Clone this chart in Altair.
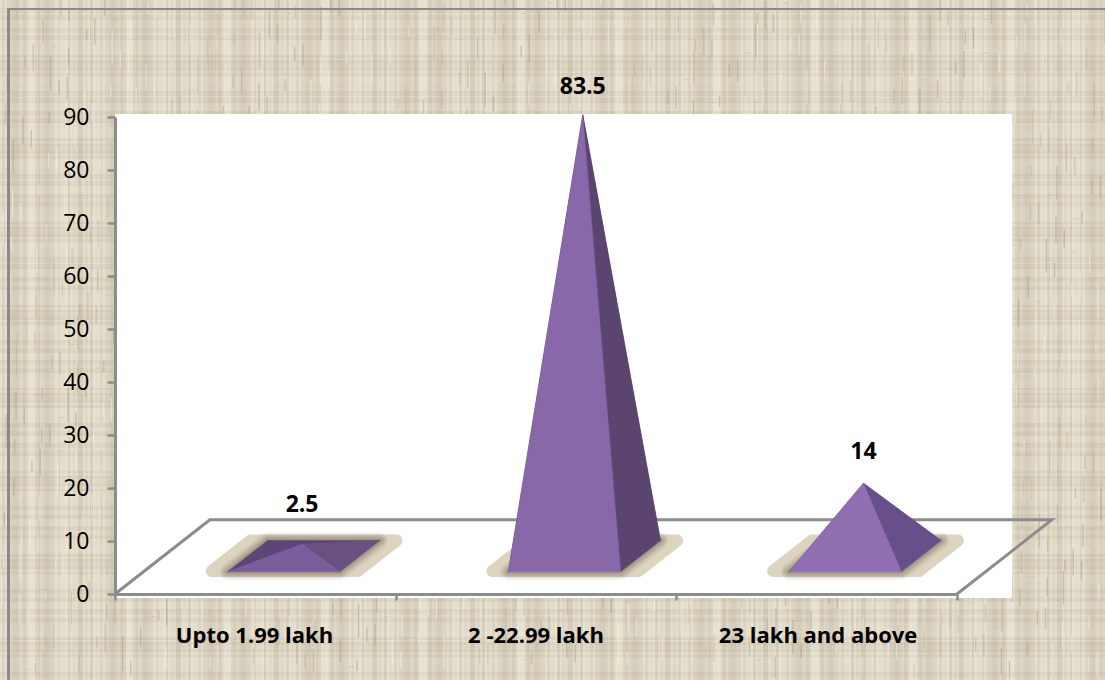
import altair as alt
import pandas as pd

# Chart values
categories = ["Upto 1.99 lakh", "2 -22.99 lakh", "23 lakh and above"]
values = [2.5, 83.5, 14]
value_labels = ["2.5", "83.5", "14"]
label_lift = [7.4, 5.2, 5.9]
y_ticks = [0, 10, 20, 30, 40, 50, 60, 70, 80, 90]

# Face colours per pyramid: back, left, right, front
face_colors = [
    ["#5a4478", "#5c4678", "#6a5080", "#7b5d9d"],
    ["#4f3c66", "#4f3c66", "#5b4470", "#8868a8"],
    ["#5b4678", "#5b4678", "#67508a", "#8f6fb2"],
]

# Oblique floor projection: a depth of 1 shifts x and y by these axis amounts
SHEAR_X = 0.338
SHEAR_Y = 14.0
DEPTH_MID = 6.9 / SHEAR_Y
HALF_U = 0.2
NEAR, FAR = 0.3, 0.72

W, H = 1105, 680
LEFT, TOP = 115, 117
PLOT_W, PLOT_H = 842, 477
GREY = "#8c8c8c"
LABEL_FONT = "Open Sans"

X_SCALE = alt.Scale(domain=[0, 3], nice=False, zero=False)
Y_SCALE = alt.Scale(domain=[0, 90], nice=False, zero=True)
X_AXIS = alt.Axis(values=[0, 1, 2, 3], labels=False, grid=False, domainColor=GREY, title=None,
                  domainWidth=3, tickColor=GREY, tickWidth=2.5, tickSize=6, zindex=1)
Y_AXIS = alt.Axis(values=y_ticks, grid=False, domainColor=GREY, domainWidth=3, title=None,
                  tickColor=GREY, tickWidth=2.5, tickSize=8, labelFont=LABEL_FONT,
                  labelFontSize=23, labelColor="#000000", labelPadding=18, zindex=1)
X_PLAIN = dict(scale=X_SCALE, axis=X_AXIS)
Y_PLAIN = dict(scale=Y_SCALE, axis=Y_AXIS)


def floor_point(u, d, lift=0.0):
    return {"x": u + d * SHEAR_X, "y": d * SHEAR_Y + lift}


def polygon(points):
    return alt.Data(values=[dict(p, i=i) for i, p in enumerate(points)])


def filled(points, fill, width=0.5, opacity=1.0):
    return (
        alt.Chart(polygon(points))
        .mark_line(fill=fill, stroke=fill, strokeWidth=width, opacity=opacity,
                   strokeJoin="round", clip=False)
        .encode(x=alt.X("x:Q", **X_PLAIN), y=alt.Y("y:Q", **Y_PLAIN), order="i:O")
    )


def floor_patch(c, half_u, near, far):
    """Closed floor rectangle; the path runs one vertex past its start so the stroke joins."""
    a = floor_point(c - half_u, near)
    b = floor_point(c + half_u, near)
    return [a, b, floor_point(c + half_u, far), floor_point(c - half_u, far), a, b]


def weave(steps, threads):
    """Gradient stops for a woven stripe pattern of fine threads."""
    n = len(steps)
    stops = []
    for i in range(threads):
        s = steps[((i * i) // 3 + i * 5) % n]
        col = f"rgba(255,250,236,{s:.2f})" if s > 0 else f"rgba(120,108,84,{-s:.2f})"
        stops.append(alt.GradientStop(offset=i / threads, color=col))
        stops.append(alt.GradientStop(offset=(i + 1) / threads - 1e-4, color=col))
    return stops


v_threads = [0.20, -0.07, 0.03, -0.12, 0.30, -0.03, 0.08, -0.10, 0.14, 0.0, -0.14, 0.22, -0.05]
h_threads = [0.07, -0.05, 0.12, -0.03, -0.08, 0.05, 0.10, -0.06, 0.02, -0.04, 0.08]


def panel(fill):
    return alt.Chart(alt.Data(values=[{"a": 0}])).mark_rect(fill=fill).encode(
        x=alt.value(-LEFT), x2=alt.value(W - LEFT),
        y=alt.value(-TOP), y2=alt.value(H - TOP),
    )


layers = [
    panel("#ddd5c2"),
    panel(alt.Gradient(gradient="linear", x1=0, x2=1, y1=0, y2=0, stops=weave(v_threads, 440))),
    panel(alt.Gradient(gradient="linear", x1=0, x2=0, y1=0, y2=1, stops=weave(h_threads, 270))),
]

# Short thread flecks that break up the regular weave
fleck_lengths = [9, 22, 14, 34, 6, 18, 27, 11]
fleck_colors = ["#f3ecdc", "#a89f8a", "#c2b9a3", "#f7f1e3", "#b3aa95"]
v_flecks, h_flecks = [], []
for i in range(1500):
    px = (i * 0.6180339) % 1 * W
    py = (i * 0.7548777) % 1 * H
    run = fleck_lengths[i % len(fleck_lengths)]
    row = {
        "x": (px - LEFT) / (PLOT_W / 3),
        "y": (TOP + PLOT_H - py) / (PLOT_H / 90),
        "c": fleck_colors[i % len(fleck_colors)],
    }
    if i % 4:
        v_flecks.append(dict(row, y2=row["y"] + run / (PLOT_H / 90)))
    else:
        h_flecks.append(dict(row, x2=row["x"] + run * 0.6 / (PLOT_W / 3)))
layers.append(
    alt.Chart(alt.Data(values=v_flecks)).mark_rule(strokeWidth=1.4, opacity=0.5, clip=False).encode(
        x=alt.X("x:Q", **X_PLAIN), y=alt.Y("y:Q", **Y_PLAIN), y2="y2:Q",
        color=alt.Color("c:N", scale=None),
    )
)
layers.append(
    alt.Chart(alt.Data(values=h_flecks)).mark_rule(strokeWidth=1.2, opacity=0.28, clip=False).encode(
        x=alt.X("x:Q", **X_PLAIN), x2="x2:Q", y=alt.Y("y:Q", **Y_PLAIN),
        color=alt.Color("c:N", scale=None),
    )
)

# Frame on the left and top edges
frame = alt.Data(values=[{"a": 0}])
layers.append(alt.Chart(frame).mark_rect(fill="#8a8a8a").encode(
    x=alt.value(7 - LEFT), x2=alt.value(10 - LEFT), y=alt.value(8 - TOP), y2=alt.value(H - TOP)))
layers.append(alt.Chart(frame).mark_rect(fill="#8a8a8a").encode(
    x=alt.value(7 - LEFT), x2=alt.value(W - LEFT), y=alt.value(8 - TOP), y2=alt.value(10 - TOP)))

# White plotting panel
layers.append(alt.Chart(frame).mark_rect(fill="#ffffff").encode(
    x=alt.value(0), x2=alt.value(1012 - LEFT), y=alt.value(114 - TOP), y2=alt.value(598 - TOP)))

# Floor outline
floor = [floor_point(0, 0), floor_point(0, 1), floor_point(3, 1), floor_point(3, 0)]
layers.append(
    alt.Chart(polygon(floor))
    .mark_line(color=GREY, strokeWidth=3, clip=False)
    .encode(x=alt.X("x:Q", **X_PLAIN), y=alt.Y("y:Q", **Y_PLAIN), order="i:O")
)

# Soft shadows and pyramids
for k, val in enumerate(values):
    c = k + 0.5
    layers.append(filled(floor_patch(c, 0.26, 0.31, 0.72), "#dcd4bf", width=12))
    inner = floor_patch(c, HALF_U, NEAR, FAR)
    for w, op in [(16, 0.08), (12, 0.11), (8, 0.14), (4, 0.18)]:
        layers.append(filled(inner, "#5d5340", width=w, opacity=op))

    fl, fr = floor_point(c - HALF_U, NEAR), floor_point(c + HALF_U, NEAR)
    br, bl = floor_point(c + HALF_U, FAR), floor_point(c - HALF_U, FAR)
    apex = floor_point(c, DEPTH_MID)
    apex["y"] = val + DEPTH_MID * SHEAR_Y
    back, left, right, front = face_colors[k]
    layers.append(filled([bl, br, apex, bl], back))
    layers.append(filled([fl, bl, apex, fl], left))
    layers.append(filled([fr, br, apex, fr], right))
    layers.append(filled([fl, fr, apex, fl], front))

# Category and value labels
cat_df = pd.DataFrame({"cat": categories, "x": [0.497, 1.5, 2.505]})
layers.append(
    alt.Chart(cat_df)
    .mark_text(font=LABEL_FONT, fontWeight="bold", fontSize=22, color="#000000", baseline="middle")
    .encode(x=alt.X("x:Q", **X_PLAIN), y=alt.value(636 - TOP), text="cat:N")
)
val_df = pd.DataFrame({
    "label": value_labels,
    "x": [k + 0.5 + DEPTH_MID * SHEAR_X for k in range(3)],
    "y": [v + DEPTH_MID * SHEAR_Y + lift for v, lift in zip(values, label_lift)],
})
layers.append(
    alt.Chart(val_df)
    .mark_text(font=LABEL_FONT, fontWeight="bold", fontSize=23, color="#000000", baseline="middle", clip=False)
    .encode(x=alt.X("x:Q", **X_PLAIN), y=alt.Y("y:Q", **Y_PLAIN), text="label:N")
)

chart = (
    alt.layer(*layers)
    .properties(
        width=PLOT_W,
        height=PLOT_H,
        autosize=alt.AutoSizeParams(type="none"),
        padding={"left": LEFT, "top": TOP, "right": W - LEFT - PLOT_W, "bottom": H - TOP - PLOT_H},
    )
    .configure_view(stroke=None)
)
chart.save("out.html", embed_options={"renderer": "svg", "actions": False})
